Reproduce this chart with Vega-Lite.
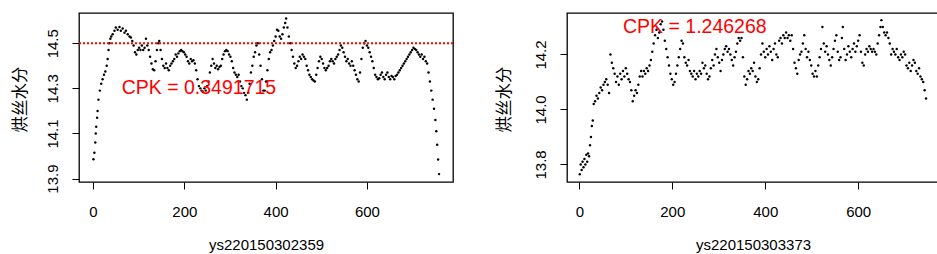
{
  "$schema": "https://vega.github.io/schema/vega-lite/v6.json",
  "background": "white",
  "padding": {"left": 11, "top": 12, "right": 0, "bottom": 0},
  "autosize": {"type": "pad"},
  "spacing": 40,
  "config": {
    "view": {"stroke": "black", "strokeWidth": 1.3},
    "axis": {
      "labelFont": "Liberation Sans", "labelFontSize": 15, "labelColor": "black",
      "titleFont": "Liberation Sans", "titleFontSize": 15, "titleFontWeight": "normal", "titleColor": "black",
      "tickColor": "black", "tickSize": 7, "tickWidth": 1, "domain": false, "grid": false, "labelPadding": 15
    }
  },
  "datasets": {
    "a": [
      {"n":1,"v":13.986},{"n":3,"v":14.015},{"n":5,"v":14.06},{"n":6,"v":14.10},{"n":7,"v":14.13},{"n":9,"v":14.17},{"n":10,"v":14.20},{"n":12,"v":14.25},{"n":15,"v":14.29},{"n":18,"v":14.32},{"n":21,"v":14.34},{"n":24,"v":14.36},{"n":27,"v":14.375},{"n":30,"v":14.40},{"n":32,"v":14.43},{"n":34,"v":14.47},{"n":36,"v":14.50},{"n":38,"v":14.52},{"n":40,"v":14.53},{"n":43,"v":14.54},{"n":47,"v":14.555},{"n":50,"v":14.57},{"n":54,"v":14.56},{"n":58,"v":14.572},{"n":61,"v":14.555},{"n":65,"v":14.565},{"n":69,"v":14.547},{"n":72,"v":14.555},{"n":76,"v":14.54},{"n":80,"v":14.53},{"n":83,"v":14.525},{"n":86,"v":14.51},{"n":89,"v":14.49},{"n":92,"v":14.46},{"n":95,"v":14.45},{"n":98,"v":14.47},{"n":101,"v":14.48},{"n":104,"v":14.47},{"n":107,"v":14.49},{"n":110,"v":14.47},{"n":113,"v":14.48},{"n":116,"v":14.52},{"n":119,"v":14.49},{"n":122,"v":14.47},{"n":125,"v":14.44},{"n":128,"v":14.41},{"n":131,"v":14.385},{"n":134,"v":14.38},{"n":137,"v":14.42},{"n":140,"v":14.47},{"n":143,"v":14.50},{"n":145,"v":14.51},{"n":148,"v":14.47},{"n":151,"v":14.43},{"n":154,"v":14.40},{"n":157,"v":14.39},{"n":160,"v":14.41},{"n":163,"v":14.39},{"n":166,"v":14.38},{"n":169,"v":14.40},{"n":172,"v":14.41},{"n":175,"v":14.42},{"n":178,"v":14.43},{"n":181,"v":14.45},{"n":184,"v":14.44},{"n":187,"v":14.455},{"n":190,"v":14.465},{"n":193,"v":14.47},{"n":196,"v":14.465},{"n":199,"v":14.46},{"n":202,"v":14.45},{"n":205,"v":14.44},{"n":208,"v":14.42},{"n":211,"v":14.41},{"n":214,"v":14.43},{"n":217,"v":14.42},{"n":220,"v":14.425},{"n":223,"v":14.41},{"n":226,"v":14.38},{"n":229,"v":14.34},{"n":232,"v":14.31},{"n":235,"v":14.30},{"n":238,"v":14.29},{"n":241,"v":14.285},{"n":244,"v":14.30},{"n":247,"v":14.29},{"n":250,"v":14.31},{"n":253,"v":14.33},{"n":256,"v":14.37},{"n":259,"v":14.40},{"n":262,"v":14.43},{"n":265,"v":14.41},{"n":268,"v":14.39},{"n":271,"v":14.40},{"n":274,"v":14.385},{"n":277,"v":14.395},{"n":280,"v":14.40},{"n":283,"v":14.43},{"n":286,"v":14.45},{"n":289,"v":14.465},{"n":292,"v":14.47},{"n":295,"v":14.465},{"n":298,"v":14.45},{"n":301,"v":14.44},{"n":304,"v":14.42},{"n":307,"v":14.39},{"n":310,"v":14.37},{"n":313,"v":14.36},{"n":316,"v":14.35},{"n":319,"v":14.36},{"n":322,"v":14.33},{"n":325,"v":14.31},{"n":328,"v":14.30},{"n":331,"v":14.28},{"n":334,"v":14.27},{"n":337,"v":14.25},{"n":340,"v":14.28},{"n":343,"v":14.32},{"n":346,"v":14.37},{"n":349,"v":14.40},{"n":352,"v":14.44},{"n":355,"v":14.46},{"n":358,"v":14.49},{"n":361,"v":14.50},{"n":364,"v":14.45},{"n":367,"v":14.40},{"n":370,"v":14.34},{"n":373,"v":14.29},{"n":376,"v":14.29},{"n":379,"v":14.33},{"n":382,"v":14.38},{"n":385,"v":14.43},{"n":388,"v":14.46},{"n":391,"v":14.47},{"n":394,"v":14.49},{"n":397,"v":14.51},{"n":400,"v":14.53},{"n":403,"v":14.56},{"n":406,"v":14.555},{"n":409,"v":14.53},{"n":412,"v":14.52},{"n":415,"v":14.54},{"n":418,"v":14.57},{"n":421,"v":14.59},{"n":423,"v":14.61},{"n":426,"v":14.57},{"n":429,"v":14.53},{"n":432,"v":14.50},{"n":435,"v":14.47},{"n":438,"v":14.44},{"n":441,"v":14.41},{"n":444,"v":14.39},{"n":447,"v":14.40},{"n":450,"v":14.42},{"n":453,"v":14.44},{"n":456,"v":14.43},{"n":459,"v":14.45},{"n":462,"v":14.44},{"n":465,"v":14.43},{"n":468,"v":14.40},{"n":471,"v":14.38},{"n":474,"v":14.36},{"n":477,"v":14.35},{"n":480,"v":14.34},{"n":483,"v":14.335},{"n":486,"v":14.33},{"n":489,"v":14.36},{"n":492,"v":14.39},{"n":495,"v":14.42},{"n":498,"v":14.44},{"n":501,"v":14.43},{"n":504,"v":14.41},{"n":507,"v":14.39},{"n":510,"v":14.38},{"n":513,"v":14.39},{"n":516,"v":14.40},{"n":519,"v":14.42},{"n":522,"v":14.43},{"n":525,"v":14.42},{"n":528,"v":14.41},{"n":531,"v":14.43},{"n":534,"v":14.44},{"n":537,"v":14.45},{"n":540,"v":14.47},{"n":543,"v":14.49},{"n":546,"v":14.48},{"n":549,"v":14.46},{"n":552,"v":14.44},{"n":555,"v":14.42},{"n":558,"v":14.43},{"n":561,"v":14.41},{"n":564,"v":14.40},{"n":567,"v":14.42},{"n":570,"v":14.40},{"n":573,"v":14.38},{"n":576,"v":14.36},{"n":579,"v":14.34},{"n":582,"v":14.33},{"n":585,"v":14.37},{"n":588,"v":14.43},{"n":591,"v":14.48},{"n":594,"v":14.50},{"n":597,"v":14.51},{"n":600,"v":14.49},{"n":603,"v":14.48},{"n":606,"v":14.46},{"n":609,"v":14.44},{"n":612,"v":14.42},{"n":615,"v":14.39},{"n":618,"v":14.36},{"n":621,"v":14.35},{"n":624,"v":14.34},{"n":627,"v":14.345},{"n":630,"v":14.36},{"n":633,"v":14.37},{"n":636,"v":14.35},{"n":639,"v":14.34},{"n":642,"v":14.36},{"n":645,"v":14.37},{"n":648,"v":14.35},{"n":651,"v":14.34},{"n":654,"v":14.355},{"n":657,"v":14.35},{"n":660,"v":14.34},{"n":663,"v":14.355},{"n":666,"v":14.36},{"n":669,"v":14.37},{"n":672,"v":14.38},{"n":675,"v":14.39},{"n":678,"v":14.40},{"n":681,"v":14.41},{"n":684,"v":14.42},{"n":687,"v":14.43},{"n":690,"v":14.44},{"n":693,"v":14.45},{"n":696,"v":14.46},{"n":699,"v":14.47},{"n":702,"v":14.48},{"n":705,"v":14.475},{"n":708,"v":14.47},{"n":711,"v":14.46},{"n":714,"v":14.45},{"n":717,"v":14.44},{"n":720,"v":14.45},{"n":723,"v":14.43},{"n":726,"v":14.44},{"n":729,"v":14.42},{"n":732,"v":14.41},{"n":735,"v":14.37},{"n":738,"v":14.33},{"n":741,"v":14.29},{"n":744,"v":14.25},{"n":747,"v":14.21},{"n":750,"v":14.16},{"n":752,"v":14.11},{"n":754,"v":14.05},{"n":756,"v":13.985},{"n":758,"v":13.92}
    ],
    "b": [
      {"n":1,"v":13.764},{"n":3,"v":13.80},{"n":5,"v":13.78},{"n":7,"v":13.81},{"n":9,"v":13.79},{"n":11,"v":13.82},{"n":13,"v":13.80},{"n":15,"v":13.835},{"n":17,"v":13.81},{"n":19,"v":13.84},{"n":21,"v":13.83},{"n":23,"v":13.87},{"n":25,"v":13.90},{"n":27,"v":13.94},{"n":29,"v":13.96},{"n":31,"v":14.02},{"n":34,"v":14.03},{"n":37,"v":14.05},{"n":40,"v":14.04},{"n":43,"v":14.06},{"n":46,"v":14.08},{"n":49,"v":14.07},{"n":52,"v":14.09},{"n":55,"v":14.10},{"n":58,"v":14.11},{"n":61,"v":14.09},{"n":64,"v":14.06},{"n":67,"v":14.20},{"n":70,"v":14.17},{"n":73,"v":14.15},{"n":76,"v":14.13},{"n":79,"v":14.10},{"n":82,"v":14.12},{"n":85,"v":14.09},{"n":88,"v":14.13},{"n":91,"v":14.11},{"n":94,"v":14.14},{"n":97,"v":14.12},{"n":100,"v":14.15},{"n":103,"v":14.13},{"n":106,"v":14.11},{"n":109,"v":14.10},{"n":112,"v":14.07},{"n":115,"v":14.03},{"n":118,"v":14.05},{"n":121,"v":14.07},{"n":124,"v":14.06},{"n":127,"v":14.09},{"n":130,"v":14.12},{"n":133,"v":14.14},{"n":136,"v":14.12},{"n":139,"v":14.14},{"n":142,"v":14.13},{"n":145,"v":14.15},{"n":148,"v":14.14},{"n":151,"v":14.16},{"n":154,"v":14.18},{"n":157,"v":14.21},{"n":160,"v":14.24},{"n":163,"v":14.27},{"n":166,"v":14.29},{"n":169,"v":14.26},{"n":172,"v":14.28},{"n":175,"v":14.31},{"n":178,"v":14.32},{"n":181,"v":14.29},{"n":184,"v":14.25},{"n":187,"v":14.22},{"n":190,"v":14.19},{"n":193,"v":14.16},{"n":196,"v":14.13},{"n":199,"v":14.11},{"n":202,"v":14.09},{"n":205,"v":14.10},{"n":208,"v":14.13},{"n":211,"v":14.16},{"n":214,"v":14.19},{"n":217,"v":14.22},{"n":220,"v":14.25},{"n":223,"v":14.24},{"n":226,"v":14.19},{"n":229,"v":14.17},{"n":232,"v":14.16},{"n":235,"v":14.18},{"n":238,"v":14.14},{"n":241,"v":14.13},{"n":244,"v":14.12},{"n":247,"v":14.14},{"n":250,"v":14.11},{"n":253,"v":14.13},{"n":256,"v":14.12},{"n":259,"v":14.14},{"n":262,"v":14.13},{"n":265,"v":14.17},{"n":268,"v":14.15},{"n":271,"v":14.16},{"n":274,"v":14.13},{"n":277,"v":14.11},{"n":280,"v":14.12},{"n":283,"v":14.15},{"n":286,"v":14.18},{"n":289,"v":14.16},{"n":292,"v":14.20},{"n":295,"v":14.22},{"n":298,"v":14.19},{"n":301,"v":14.17},{"n":304,"v":14.14},{"n":307,"v":14.18},{"n":310,"v":14.20},{"n":313,"v":14.22},{"n":316,"v":14.23},{"n":319,"v":14.21},{"n":322,"v":14.22},{"n":325,"v":14.20},{"n":328,"v":14.18},{"n":331,"v":14.16},{"n":334,"v":14.19},{"n":337,"v":14.21},{"n":340,"v":14.24},{"n":343,"v":14.26},{"n":346,"v":14.25},{"n":349,"v":14.26},{"n":352,"v":14.19},{"n":355,"v":14.12},{"n":358,"v":14.09},{"n":361,"v":14.11},{"n":364,"v":14.14},{"n":367,"v":14.13},{"n":370,"v":14.15},{"n":373,"v":14.14},{"n":376,"v":14.17},{"n":379,"v":14.12},{"n":382,"v":14.10},{"n":385,"v":14.11},{"n":388,"v":14.15},{"n":391,"v":14.20},{"n":394,"v":14.24},{"n":397,"v":14.21},{"n":400,"v":14.19},{"n":403,"v":14.22},{"n":406,"v":14.20},{"n":409,"v":14.23},{"n":412,"v":14.21},{"n":415,"v":14.18},{"n":418,"v":14.22},{"n":421,"v":14.24},{"n":424,"v":14.20},{"n":427,"v":14.19},{"n":430,"v":14.25},{"n":433,"v":14.26},{"n":436,"v":14.24},{"n":439,"v":14.27},{"n":442,"v":14.26},{"n":445,"v":14.28},{"n":448,"v":14.26},{"n":451,"v":14.27},{"n":454,"v":14.25},{"n":457,"v":14.27},{"n":460,"v":14.22},{"n":463,"v":14.17},{"n":466,"v":14.15},{"n":469,"v":14.13},{"n":472,"v":14.18},{"n":475,"v":14.20},{"n":478,"v":14.21},{"n":481,"v":14.24},{"n":484,"v":14.27},{"n":487,"v":14.22},{"n":490,"v":14.19},{"n":493,"v":14.21},{"n":496,"v":14.18},{"n":499,"v":14.16},{"n":502,"v":14.13},{"n":505,"v":14.12},{"n":508,"v":14.14},{"n":511,"v":14.12},{"n":514,"v":14.16},{"n":517,"v":14.19},{"n":520,"v":14.22},{"n":523,"v":14.30},{"n":526,"v":14.24},{"n":529,"v":14.21},{"n":532,"v":14.23},{"n":535,"v":14.20},{"n":538,"v":14.18},{"n":541,"v":14.16},{"n":544,"v":14.19},{"n":547,"v":14.22},{"n":550,"v":14.25},{"n":553,"v":14.27},{"n":556,"v":14.21},{"n":559,"v":14.18},{"n":562,"v":14.19},{"n":565,"v":14.26},{"n":567,"v":14.30},{"n":570,"v":14.22},{"n":573,"v":14.18},{"n":576,"v":14.20},{"n":579,"v":14.23},{"n":582,"v":14.21},{"n":585,"v":14.19},{"n":588,"v":14.22},{"n":591,"v":14.24},{"n":594,"v":14.21},{"n":597,"v":14.23},{"n":600,"v":14.25},{"n":603,"v":14.27},{"n":606,"v":14.21},{"n":609,"v":14.17},{"n":612,"v":14.16},{"n":615,"v":14.20},{"n":618,"v":14.22},{"n":621,"v":14.21},{"n":624,"v":14.23},{"n":627,"v":14.22},{"n":630,"v":14.21},{"n":633,"v":14.22},{"n":636,"v":14.21},{"n":639,"v":14.20},{"n":642,"v":14.24},{"n":645,"v":14.27},{"n":648,"v":14.30},{"n":650,"v":14.325},{"n":653,"v":14.30},{"n":656,"v":14.28},{"n":659,"v":14.27},{"n":662,"v":14.28},{"n":665,"v":14.26},{"n":668,"v":14.24},{"n":671,"v":14.20},{"n":674,"v":14.22},{"n":677,"v":14.21},{"n":680,"v":14.20},{"n":683,"v":14.22},{"n":686,"v":14.19},{"n":689,"v":14.18},{"n":692,"v":14.20},{"n":695,"v":14.19},{"n":698,"v":14.21},{"n":701,"v":14.20},{"n":704,"v":14.16},{"n":707,"v":14.15},{"n":710,"v":14.17},{"n":713,"v":14.14},{"n":716,"v":14.16},{"n":719,"v":14.18},{"n":722,"v":14.17},{"n":725,"v":14.14},{"n":728,"v":14.13},{"n":731,"v":14.15},{"n":734,"v":14.12},{"n":737,"v":14.11},{"n":740,"v":14.10},{"n":743,"v":14.07},{"n":746,"v":14.04}
    ]
  },
  "hconcat": [
    {
      "width": 374,
      "height": 169,
      "layer": [
        {
          "data": {"name": "a"},
          "mark": {"type": "circle", "size": 6, "color": "black", "opacity": 1},
          "encoding": {
            "x": {"field": "n", "type": "quantitative", "scale": {"domain": [-30.7, 788.6], "nice": false, "zero": false},
              "axis": {"values": [0, 200, 400, 600], "title": "ys220150302359", "titleY": 67, "titleBaseline": "alphabetic"}},
            "y": {"field": "v", "type": "quantitative", "scale": {"domain": [13.885, 14.634], "nice": false, "zero": false},
              "axis": {"values": [13.9, 14.0, 14.1, 14.2, 14.3, 14.4, 14.5, 14.6],
                "labelExpr": "indexof(['13.9','14.1','14.3','14.5'], format(datum.value, '.1f')) >= 0 ? format(datum.value, '.1f') : ''",
                "labelAngle": 270, "labelAlign": "center", "labelBaseline": "alphabetic",
                "title": "烘丝水分", "titleFont": "Noto Sans CJK SC", "titleFontSize": 16.5,
                "titleX": -59, "titleY": 86, "titleAngle": 270, "titleAlign": "center", "titleBaseline": "middle"}}
          }
        },
        {
          "data": {"values": [{"usl": 14.5}]},
          "mark": {"type": "rule", "color": "#ff0000", "strokeWidth": 2, "strokeDash": [2, 2]},
          "encoding": {"y": {"field": "usl", "type": "quantitative"}}
        },
        {
          "data": {"values": [{"n": 232, "v": 14.3, "label": "CPK = 0.3491715"}]},
          "mark": {"type": "text", "color": "#ff0000", "font": "Liberation Sans", "fontSize": 19.5, "align": "center", "baseline": "middle"},
          "encoding": {
            "x": {"field": "n", "type": "quantitative"},
            "y": {"field": "v", "type": "quantitative"},
            "text": {"field": "label"}
          }
        }
      ]
    },
    {
      "width": 372,
      "height": 169,
      "layer": [
        {
          "data": {"name": "b"},
          "mark": {"type": "circle", "size": 6, "color": "black", "opacity": 1},
          "encoding": {
            "x": {"field": "n", "type": "quantitative", "scale": {"domain": [-26.5, 773.9], "nice": false, "zero": false},
              "axis": {"values": [0, 200, 400, 600], "title": "ys220150303373", "titleY": 67, "titleBaseline": "alphabetic"}},
            "y": {"field": "v", "type": "quantitative", "scale": {"domain": [13.736, 14.351], "nice": false, "zero": false},
              "axis": {"values": [13.8, 13.9, 14.0, 14.1, 14.2, 14.3],
                "labelExpr": "indexof(['13.8','14.0','14.2'], format(datum.value, '.1f')) >= 0 ? format(datum.value, '.1f') : ''",
                "labelAngle": 270, "labelAlign": "center", "labelBaseline": "alphabetic",
                "title": "烘丝水分", "titleFont": "Noto Sans CJK SC", "titleFontSize": 16.5,
                "titleX": -63, "titleY": 86, "titleAngle": 270, "titleAlign": "center", "titleBaseline": "middle"}}
          }
        },
        {
          "data": {"values": [{"n": 248.5, "v": 14.3, "label": "CPK = 1.246268"}]},
          "mark": {"type": "text", "color": "#ff0000", "font": "Liberation Sans", "fontSize": 19.5, "align": "center", "baseline": "middle"},
          "encoding": {
            "x": {"field": "n", "type": "quantitative"},
            "y": {"field": "v", "type": "quantitative"},
            "text": {"field": "label"}
          }
        }
      ]
    }
  ]
}
